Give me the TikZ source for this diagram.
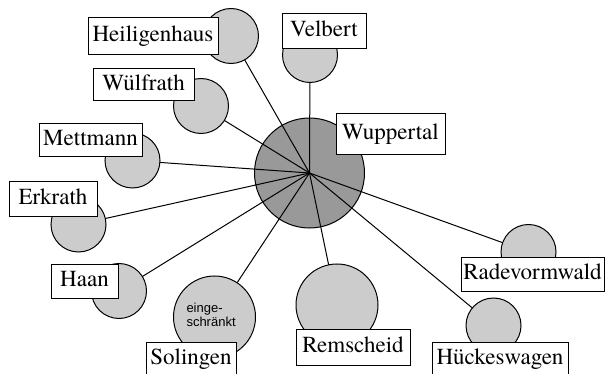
\documentclass[tikz,border=0pt]{standalone}
\usepackage{fontspec}
\newfontfamily\namefont{texgyretermes}[Extension=.otf, UprightFont=*-regular]
\newfontfamily\smallsans{Liberation Sans}
\definecolor{towngrey}{gray}{0.8}
\definecolor{hubgrey}{gray}{0.6}
\begin{document}
\begin{tikzpicture}[x=1pt, y=-1pt, line width=1pt,
  town/.style={draw, circle, fill=towngrey, inner sep=0pt, minimum size=55pt},
  bigtown/.style={town, minimum size=82pt},
  cityname/.style={draw, fill=white, font=\namefont\fontsize{23}{27}\selectfont, inner sep=0pt,
    text height=15.5pt, text depth=5pt, minimum height=35pt}]
\useasboundingbox (0,0) rectangle (605,374);
\clip (0,0) rectangle (605,374);
\node[town, fill=hubgrey, minimum size=110pt] (wup) at (309.5,173) {};
\coordinate (hei) at (231,36);
\coordinate (vel) at (310,55);
\coordinate (wul) at (201,106);
\coordinate (met) at (132.5,160.5);
\coordinate (erk) at (78.5,224.5);
\coordinate (haa) at (119,291);
\coordinate (sol) at (214.5,317);
\coordinate (rem) at (337,305);
\coordinate (hue) at (493.5,325.5);
\coordinate (rad) at (528.5,252);
\foreach \c in {hei,vel,wul,met,erk,haa,sol,rem,hue,rad}
  \draw (wup.center) -- (\c);
\node[town] (heicirc) at (hei) {};
\node[town] (velcirc) at (vel) {};
\node[town] (wulcirc) at (wul) {};
\node[town] (metcirc) at (met) {};
\node[town] (erkcirc) at (erk) {};
\node[town] (haacirc) at (haa) {};
\node[bigtown] (solcirc) at (sol) {};
\node[bigtown] (remcirc) at (rem) {};
\node[town] (huecirc) at (hue) {};
\node[town] (radcirc) at (rad) {};
\node[font=\smallsans\fontsize{13}{14}\selectfont, align=left, anchor=west, inner sep=0pt] (limited) at (186,315) {einge-\\schränkt};
\node[cityname, minimum width=130pt, minimum height=37pt] (heiname) at (153,36) {Heiligenhaus};
\node[cityname, minimum width=84pt] (velname) at (324,31.5) {Velbert};
\node[cityname, minimum width=101pt, minimum height=32pt] (wulname) at (143.5,85) {Wülfrath};
\node[cityname, minimum width=103pt, minimum height=33pt] (metname) at (90.5,140.5) {Mettmann};
\node[cityname, minimum width=88pt] (erkname) at (53,199.5) {Erkrath};
\node[cityname, minimum width=67pt, minimum height=34pt] (haaname) at (84.5,281) {Haan};
\node[cityname, minimum width=90pt] (solname) at (191,359.5) {Solingen};
\node[cityname, minimum width=114pt, minimum height=36pt] (remname) at (353,347) {Remscheid};
\node[cityname, minimum width=136pt] (huename) at (500,359.5) {Hückeswagen};
\node[cityname, minimum width=143pt, minimum height=34pt] (radname) at (532.5,274) {Radevormwald};
\node[cityname, minimum width=109pt, minimum height=41pt] (wupname) at (390.5,134) {Wuppertal};
\end{tikzpicture}
\end{document}
